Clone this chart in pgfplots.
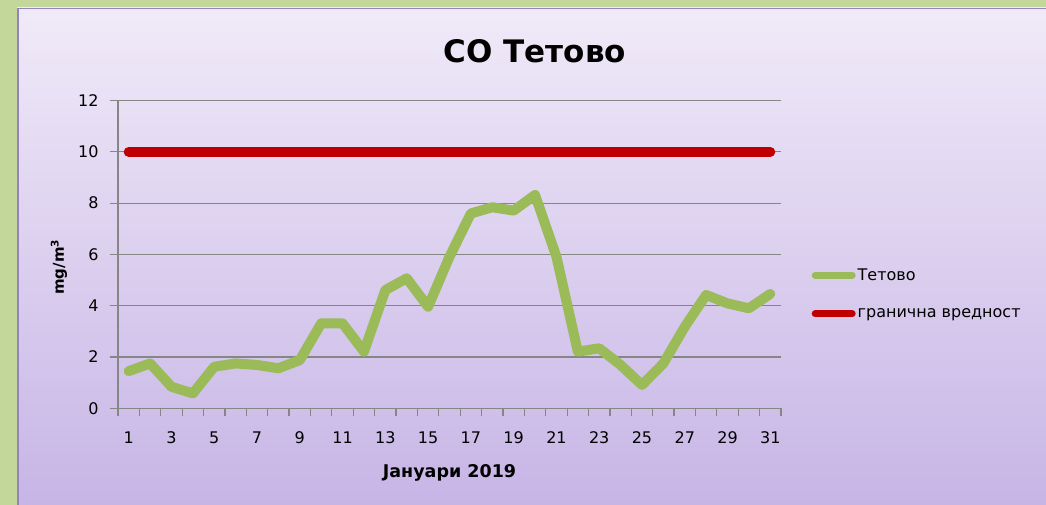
\documentclass[border=0pt]{standalone}
\usepackage{pgfplots}
\pgfplotsset{compat=1.18}
\usepackage{fontspec}
\setmainfont{DejaVu Sans}
\definecolor{framegreen}{RGB}{196,215,155}
\definecolor{bgtop}{RGB}{240,234,248}
\definecolor{bgbot}{RGB}{199,181,230}
\definecolor{panelborder}{RGB}{150,130,190}
\definecolor{axgray}{RGB}{134,134,134}
\definecolor{tgreen}{RGB}{155,187,89}
\definecolor{tred}{RGB}{192,0,0}
\begin{document}
\begin{tikzpicture}
\useasboundingbox (0,0) rectangle (1046pt,505pt);
\fill[framegreen] (0,0) rectangle (1046pt,505pt);
\shade[top color=bgtop, bottom color=bgbot] (17pt,0) rectangle (1046pt,497pt);
\draw[panelborder, line width=1.5pt] (17.75pt,0) -- (17.75pt,496.25pt) -- (1046pt,496.25pt);
\begin{axis}[
  at={(118pt,96.7pt)}, anchor=south west,
  width=663pt, height=307.7pt, scale only axis,
  xmin=0.5, xmax=31.5, ymin=0, ymax=12,
  ytick={0,2,...,12},
  xtick={1,3,...,31},
  minor xtick={0.5,1.5,...,31.5},
  ymajorgrids,
  major grid style={draw=axgray, line width=1.2pt},
  axis x line=bottom, axis y line=left,
  axis line style={-, draw=axgray, line width=1.2pt},
  tick style={draw=axgray, line width=1.2pt},
  major x tick style={draw=none},
  major tick length=8pt, minor tick length=8pt,
  tick align=outside,
  /pgf/number format/assume math mode=true,
  ticklabel style={font=\fontsize{16}{19}\selectfont, text=black},
  xticklabel style={yshift=-12pt},
  yticklabel style={xshift=-8pt},
  title={CO Тетово},
  title style={at={(axis description cs:0.629,1.14)}, anchor=center, font=\bfseries\fontsize{31}{36}\selectfont},
  xlabel={Јануари 2019},
  xlabel style={at={(axis description cs:0.5,-0.21)}, anchor=center, font=\bfseries\fontsize{17.5}{20}\selectfont},
  ylabel={mg/m\textsuperscript{3}},
  ylabel style={at={(axis description cs:-0.089,0.459)}, anchor=center, rotate=0, font=\bfseries\fontsize{15}{18}\selectfont},
  legend style={at={(axis description cs:1.046,0.372)}, anchor=west, draw=none, fill=none,
    font=\fontsize{16}{19}\selectfont, row sep=23pt, inner sep=0pt},
  legend cell align=left,
  legend image code/.code={\draw[#1, line width=7pt, line cap=round] (3pt,0pt) -- (40pt,0pt);},
]
\addplot[tgreen, line width=10pt, line join=round, line cap=round] coordinates {
(1,1.45) (2,1.75) (3,0.84) (4,0.58) (5,1.62) (6,1.75) (7,1.69) (8,1.56) (9,1.88) (10,3.31)
(11,3.31) (12,2.21) (13,4.61) (14,5.07) (15,3.96) (16,5.91) (17,7.6) (18,7.84) (19,7.71) (20,8.32)
(21,5.91) (22,2.21) (23,2.34) (24,1.69) (25,0.91) (26,1.75) (27,3.18) (28,4.42) (29,4.09) (30,3.9) (31,4.46)
};
\addlegendentry{Тетово}
\addplot[tred, line width=10pt, line cap=round] coordinates {(1,10) (31,10)};
\addlegendentry{гранична вредност}
\end{axis}
\end{tikzpicture}
\end{document}
